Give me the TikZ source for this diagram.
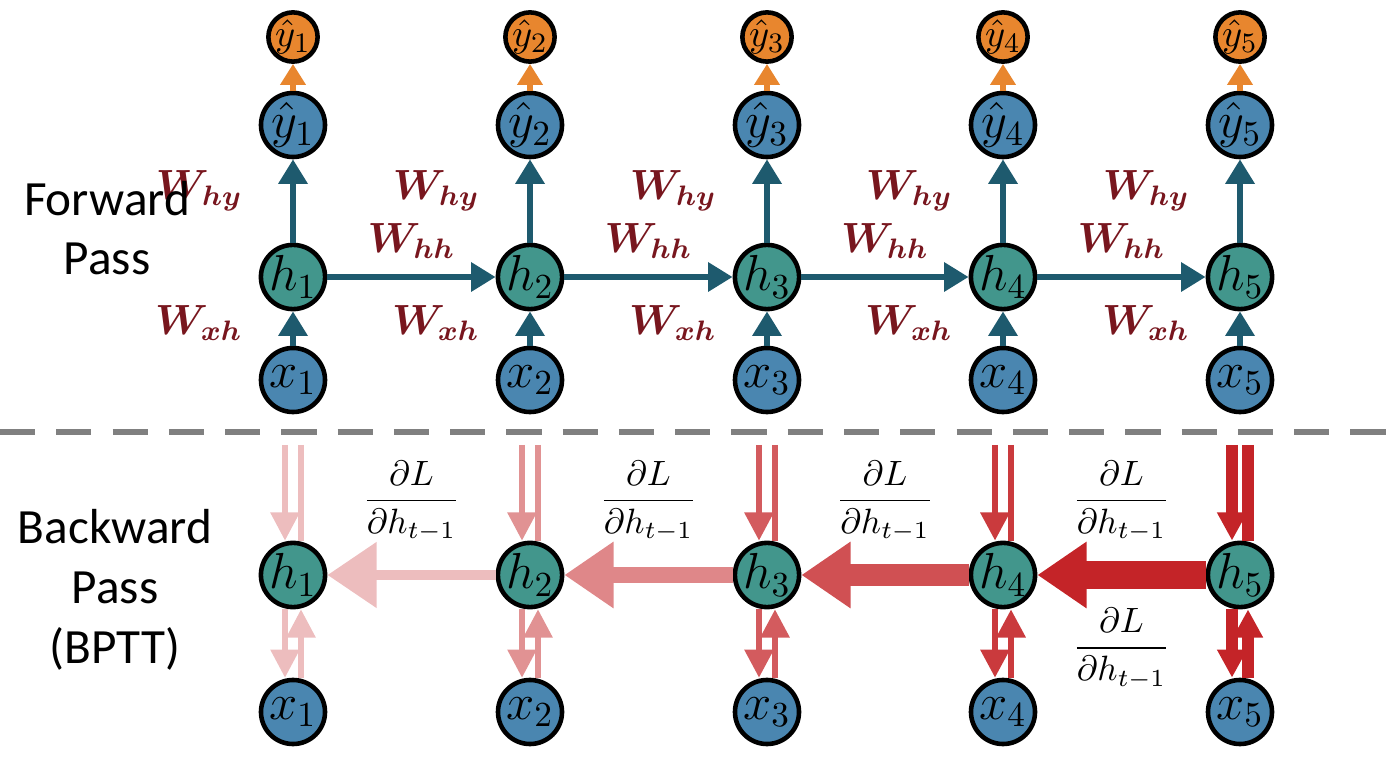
\documentclass[tikz,border=0pt]{standalone}
\usepackage{amsmath,amssymb,bm}
\usepackage{fontspec}
\setmainfont{Carlito}
\usetikzlibrary{arrows.meta,positioning,calc}
\definecolor{inblue}{RGB}{74,134,176}
\definecolor{hidteal}{RGB}{66,150,140}
\definecolor{outorange}{RGB}{232,134,46}
\definecolor{fwd}{RGB}{30,90,110}
\definecolor{wred}{RGB}{120,22,30}
\definecolor{grad}{RGB}{196,36,40}

\begin{document}
\begin{tikzpicture}[x=0.01cm, y=-0.01cm,
  cell/.style={circle, draw=black, line width=1.3pt, minimum size=0.64cm, inner sep=0pt, font=\fontsize{14}{16}\selectfont},
  inp/.style={cell, fill=inblue},
  hid/.style={cell, fill=hidteal},
  outp/.style={cell, fill=outorange, minimum size=0.46cm, font=\fontsize{11}{12}\selectfont},
  fw/.style={-{Triangle[length=7pt,width=8pt]}, line width=1.8pt, draw=fwd},
  ow/.style={-{Triangle[length=6pt,width=7pt]}, line width=1.6pt, draw=outorange},
  wlab/.style={text=wred, font=\fontsize{12}{14}\selectfont},
  glab/.style={font=\fontsize{10}{12}\selectfont},
  pass/.style={font=\fontsize{14}{17}\selectfont, align=center}
]
\useasboundingbox (0,0) rectangle (1400,764);

% forward pass
\foreach \i/\x in {1/293,2/530,3/767,4/1003,5/1240} {
  \node[outp] (o\i) at (\x,37) {$\hat y_{\i}$};
  \node[inp] (y\i) at (\x,125) {$\hat y_{\i}$};
  \node[hid] (h\i) at (\x,277) {$h_{\i}$};
  \node[inp] (x\i) at (\x,380) {$x_{\i}$};
  \draw[fw] (x\i) -- (h\i);
  \draw[fw] (h\i) -- (y\i);
  \draw[ow] (y\i) -- (o\i);
  \node[wlab, left=1pt of h\i, yshift=-0.46cm] {$\bm{W_{xh}}$};
  \node[wlab, left=1pt of h\i, yshift=0.86cm] {$\bm{W_{hy}}$};
}
\foreach \a/\b in {1/2,2/3,3/4,4/5} {
  \draw[fw] (h\a) -- node[wlab, above=1pt] {$\bm{W_{hh}}$} (h\b);
}
\node[pass] (fp) at (107,228) {Forward\\Pass};

\draw[gray, line width=1.5pt, dash pattern=on 10pt off 6pt] (0,432) -- (1400,432);

% backward pass
\foreach \i/\x/\op/\lw in {1/293/30/1.5,2/530/50/1.5,3/767/75/1.6,4/1003/90/1.7,5/1240/100/3.2} {
  \node[hid] (hb\i) at (\x,575) {$h_{\i}$};
  \node[inp] (xb\i) at (\x,712) {$x_{\i}$};
  \coordinate (tl\i) at (\x-8,445);
  \coordinate (tr\i) at (\x+8,445);
  \begin{scope}[grad!\op!white, line width=\lw pt]
    \draw[-{Triangle[length=8pt,width=8pt]}] (tl\i) -- (tl\i |- hb\i.north);
    \draw (tr\i) -- (tr\i |- hb\i.north);
    \draw[-{Triangle[length=8pt,width=8pt]}] (hb\i.south -| tl\i) -- (xb\i.north -| tl\i);
    \draw[-{Triangle[length=8pt,width=8pt]}] (xb\i.north -| tr\i) -- (hb\i.south -| tr\i);
  \end{scope}
}
\foreach \a/\b/\op/\lw in {2/1/30/3,3/2/55/4.5,4/3/80/6,5/4/100/8} {
  \draw[-{Triangle[length=14pt,width=18pt]}, grad!\op!white, line width=\lw pt] (hb\a) -- (hb\b);
  \node[glab, above=6pt] (g\a) at ($(hb\a)!0.5!(hb\b)$) {$\dfrac{\partial L}{\partial h_{t-1}}$};
}
\node[glab, below=6pt] (gl5) at ($(hb5)!0.5!(hb4)$) {$\dfrac{\partial L}{\partial h_{t-1}}$};
\node[pass] (bp) at (115,590) {Backward\\Pass\\(BPTT)};
\end{tikzpicture}
\end{document}
